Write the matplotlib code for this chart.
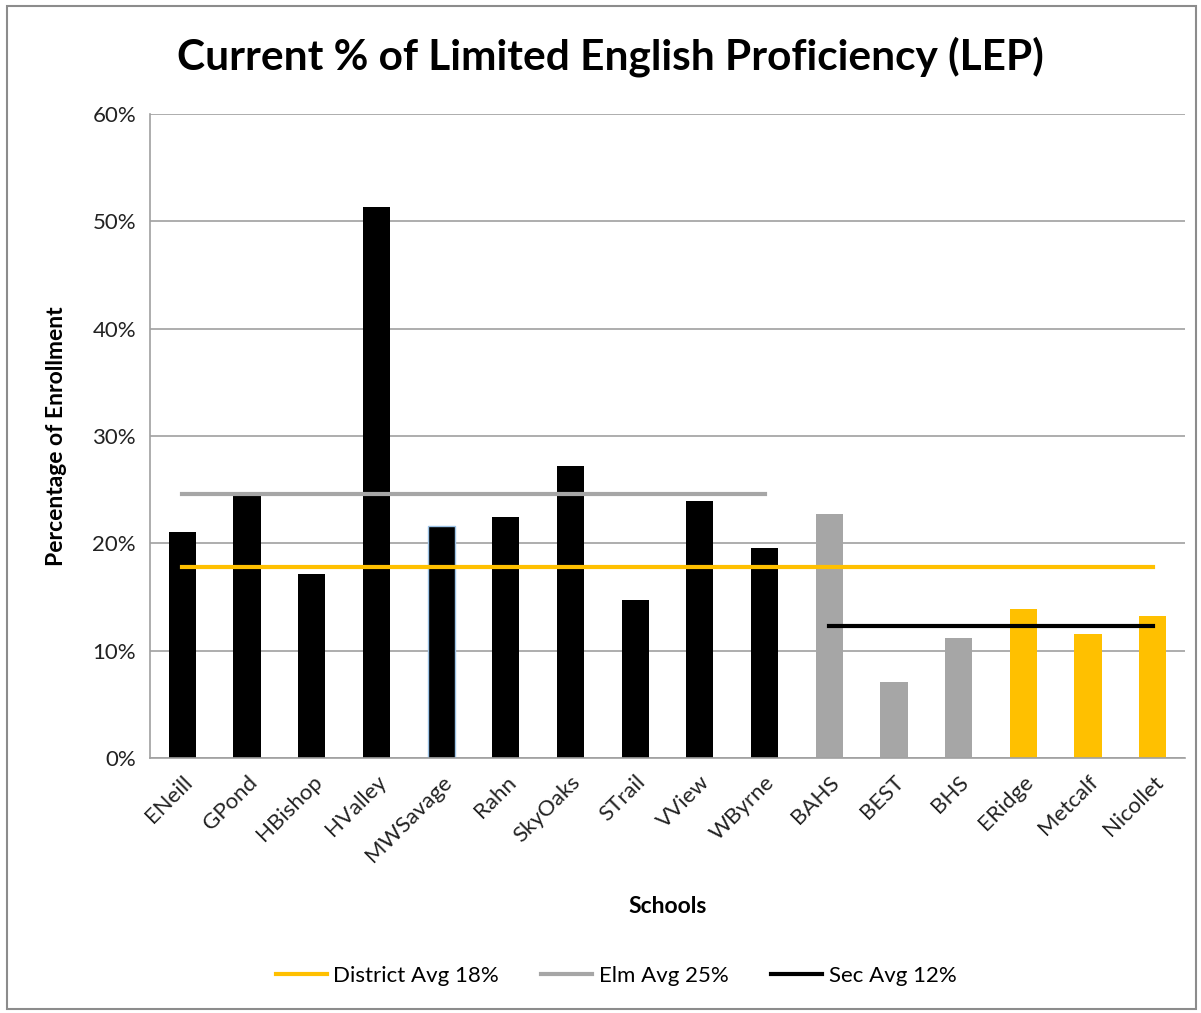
import matplotlib.pyplot as plt
from matplotlib.patches import Rectangle
from matplotlib.ticker import PercentFormatter

# data
schools = ['ENeill', 'GPond', 'HBishop', 'HValley', 'MWSavage', 'Rahn', 'SkyOaks',
           'STrail', 'VView', 'WByrne', 'BAHS', 'BEST', 'BHS', 'ERidge', 'Metcalf', 'Nicollet']
lep_pct = [21.1, 24.4, 17.1, 51.3, 21.6, 22.5, 27.2, 14.7, 23.9, 19.6,
           22.7, 7.1, 11.2, 13.9, 11.6, 13.2]
bar_colors = ['black'] * 10 + ['#A6A6A6'] * 3 + ['#FFC000'] * 3

district_avg = 17.8
elm_avg = 24.6
sec_avg = 12.3
legend_labels = ['District Avg 18%', 'Elm Avg 25%', 'Sec Avg 12%']

plt.rcParams['font.family'] = ['Lato', 'DejaVu Sans']

fig = plt.figure(figsize=(12.01, 10.13), dpi=100)
fig.patches.append(Rectangle((0.006, 0.004), 0.99, 0.99, transform=fig.transFigure,
                             fill=False, edgecolor='#8c8c8c', linewidth=1.5))

ax = fig.add_axes([0.1249, 0.2517, 0.8618, 0.6358])

x = list(range(len(schools)))
bars = ax.bar(x, lep_pct, width=0.42, color=bar_colors, zorder=2)
bars[4].set_edgecolor('#9dc3e6')
bars[4].set_linewidth(1)

# average lines
n = len(schools)
ax.plot([0, n - 1], [district_avg] * 2, color='#FFC000', lw=3, zorder=3, label=legend_labels[0])
ax.plot([0, 9], [elm_avg] * 2, color='#A6A6A6', lw=3, zorder=3, label=legend_labels[1])
ax.plot([10, n - 1], [sec_avg] * 2, color='black', lw=3, zorder=3, label=legend_labels[2])

ax.set_xlim(-0.5, n - 0.5)
ax.set_ylim(0, 60)
ax.set_yticks(range(0, 61, 10))
ax.yaxis.set_major_formatter(PercentFormatter(decimals=0))
ax.grid(axis='y', color='#a0a0a0', linewidth=1.2, zorder=0)
ax.set_axisbelow(True)

for s in ['top', 'right']:
    ax.spines[s].set_visible(False)
for s in ['left', 'bottom']:
    ax.spines[s].set_color('#a0a0a0')
    ax.spines[s].set_linewidth(1.2)

ax.tick_params(axis='both', length=0, labelsize=16, colors='#222222', pad=10)
ax.set_xticks(x)
ax.set_xticklabels(schools, rotation=45, ha='right', rotation_mode='anchor')

ax.set_xlabel('Schools', fontsize=16.5, fontweight='bold', labelpad=22)
ax.set_ylabel('Percentage of Enrollment', fontsize=16.5, fontweight='bold', labelpad=18)
fig.suptitle('Current % of Limited English Proficiency (LEP)', fontsize=30.5,
             fontweight='bold', x=0.508, y=0.944, va='center')

fig.legend(loc='center', bbox_to_anchor=(0.513, 0.037), ncol=3, frameon=False,
           fontsize=16, handlelength=2.3, columnspacing=1.9, handletextpad=0.3)

fig.savefig('out.png', dpi=100)
